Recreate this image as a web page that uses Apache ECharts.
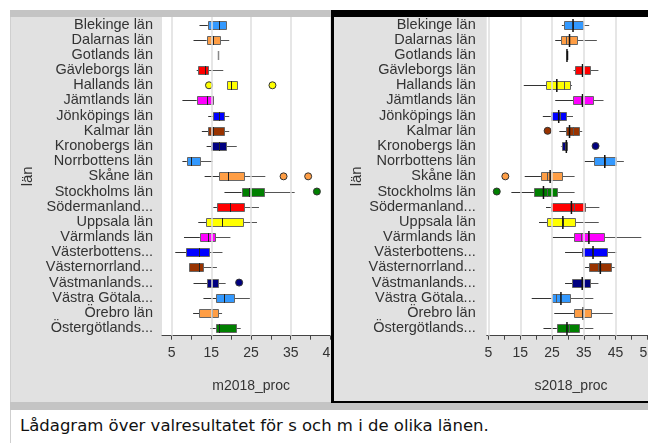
<!DOCTYPE html>
<html><head><meta charset="utf-8">
<script src="https://cdn.jsdelivr.net/npm/echarts@6/dist/echarts.min.js"></script>
<style>
html,body{margin:0;padding:0;background:#fff;width:648px;height:443px;overflow:hidden;font-family:"Liberation Sans",Arial,sans-serif;}
.abs{position:absolute;}
</style></head>
<body>
<div class="abs" style="left:10px;top:10px;width:1px;height:433px;background:#cfcfcf"></div>
<div class="abs" style="left:10px;top:10px;width:321px;height:7px;background:#c4c4c4"></div>
<div class="abs" style="left:10px;top:402px;width:638px;height:8px;background:#c4c4c4"></div>
<div class="abs" style="left:11px;top:17px;width:320px;height:385px;overflow:hidden;background:#e1e1e1">
  <div id="left" style="position:absolute;left:-1px;top:0;width:345px;height:385px"></div>
</div>
<div class="abs" style="left:334px;top:17px;width:314px;height:384px;overflow:hidden;background:#e1e1e1">
  <div id="right" style="position:absolute;left:0;top:0;width:340px;height:384px"></div>
</div>
<div class="abs" style="left:331px;top:10px;width:317px;height:7px;background:#000"></div>
<div class="abs" style="left:331px;top:10px;width:3px;height:393px;background:#000"></div>
<div class="abs" style="left:331px;top:401px;width:317px;height:2px;background:#000"></div>
<div class="abs" id="cap" style="left:20px;top:416px;font-family:'DejaVu Sans';font-size:16.5px;color:#111;white-space:nowrap">Lådagram över valresultatet för s och m i de olika länen.</div>
<script>
// ---- data ----
const categories = ["Blekinge län","Dalarnas län","Gotlands län","Gävleborgs län","Hallands län","Jämtlands län","Jönköpings län","Kalmar län","Kronobergs län","Norrbottens län","Skåne län","Stockholms län","Södermanland...","Uppsala län","Värmlands län","Västerbottens...","Västernorrland...","Västmanlands...","Västra Götala...","Örebro län","Östergötlands..."];

// m2018_proc (left panel)
const mMin    = [12.0, 10.5, 16.6, 11.3, 18.9,  7.7, 14.2, 12.6, 13.8,  7.7, 13.3, 18.3, 15.5, 11.7,  8.1,  5.9,  9.3, 10.5, 13.0, 10.4, 14.8];
const mQ1     = [14.1, 13.8, 16.6, 11.7, 18.9, 11.3, 15.5, 14.2, 15.0,  8.8, 17.0, 22.6, 16.4, 13.7, 12.1,  8.7,  9.3, 13.9, 16.2, 11.9, 16.1];
const mMedian = [16.8, 15.5, 16.6, 13.5, 19.9, 13.8, 16.8, 15.5, 17.0,  9.9, 19.1, 24.6, 19.8, 17.8, 14.2, 12.0, 11.9, 15.1, 18.2, 15.1, 16.8];
const mQ3     = [18.7, 17.2, 16.6, 14.1, 21.4, 15.3, 18.3, 18.3, 18.7, 12.1, 23.2, 28.2, 23.2, 22.9, 15.8, 14.5, 12.9, 16.7, 20.7, 16.7, 21.1];
const mMax    = [18.7, 19.5, 16.6, 18.0, 21.4, 15.3, 19.5, 19.5, 21.4, 15.3, 28.6, 36.0, 27.0, 26.5, 19.8, 17.8, 16.4, 18.6, 24.7, 17.7, 22.4];
const mOutlierCats = ["Hallands län","Hallands län","Skåne län","Skåne län","Stockholms län","Västmanlands..."];
const mOutlierVals = [14.4, 30.4, 33.2, 39.4, 41.6, 22.0];

// s2018_proc (right panel)
const sMin    = [28.1, 26.0, 29.7, 31.8, 16.1, 26.0, 22.1, 27.3, 27.8, 35.2, 16.4, 12.2, 23.1, 20.9, 25.2, 29.1, 35.4, 29.1, 18.6, 25.7, 22.3];
const sQ1     = [28.7, 27.9, 29.7, 32.2, 23.1, 31.6, 24.6, 29.4, 28.0, 38.3, 21.5, 19.3, 24.6, 23.4, 31.9, 34.5, 36.7, 31.4, 24.9, 31.9, 26.5];
const sMedian = [31.6, 29.5, 29.7, 34.6, 28.7, 34.0, 27.6, 31.6, 29.0, 41.6, 23.4, 23.5, 32.0, 28.6, 34.0, 37.9, 39.6, 34.5, 26.3, 34.5, 30.3];
const sQ3     = [34.8, 32.7, 29.7, 36.9, 30.5, 38.0, 29.5, 33.6, 29.6, 45.1, 28.1, 26.6, 35.4, 32.3, 41.2, 42.3, 43.5, 36.9, 30.6, 37.4, 33.5];
const sMax    = [36.7, 39.1, 29.7, 39.6, 31.3, 41.2, 31.6, 34.5, 29.8, 47.6, 32.1, 32.1, 39.9, 39.7, 53.1, 45.3, 44.7, 39.6, 38.0, 44.1, 38.0];
const sMarker = [31.6, 30.5, 29.7, 34.6, 26.5, 34.6, 27.1, 30.5, 29.5, 41.6, 24.4, 22.3, 31.1, 28.4, 36.6, 37.9, 40.2, 34.5, 27.8, 34.8, 29.7];
const sOutlierCats = ["Kalmar län","Kronobergs län","Skåne län","Stockholms län"];
const sOutlierVals = [23.6, 38.7, 10.3, 7.6];

const tickValues = [5,10,15,20,25,30,35,40,45,50,55];
const labelValues = [5,15,25,35,45,55];
const gridValues = [5,15,25,35,45];

// ---- styling ----
const palette = ["#3399ff","#ff9e45","#008000","#ff0000","#ffff00","#ff00ff","#0000ff","#993300","#000080"];
const FONT = "Liberation Sans";

function makeRender(withMarker, singleColor) {
  return function (params, api) {
    const i = api.value(0);
    const c = palette[i % palette.length];
    const pLo = api.coord([api.value(1), i]);
    const pQ1 = api.coord([api.value(2), i]);
    const pMed = api.coord([api.value(3), i]);
    const pQ3 = api.coord([api.value(4), i]);
    const pHi = api.coord([api.value(5), i]);
    const y = Math.round(pLo[1]);
    const h = 9;
    const r = v => Math.round(v) + 0.5;
    const kids = [];
    const single = Math.abs(pHi[0] - pLo[0]) < 0.5;
    if (single) {
      kids.push({type:'line', shape:{x1:r(pMed[0]), y1:y - 4, x2:r(pMed[0]), y2:y + 5}, style:{stroke:singleColor, lineWidth:1.5}});
    } else {
      kids.push({type:'line', shape:{x1:pLo[0], y1:y + 0.5, x2:pQ1[0], y2:y + 0.5}, style:{stroke:'#333', lineWidth:1}});
      kids.push({type:'line', shape:{x1:pQ3[0], y1:y + 0.5, x2:pHi[0], y2:y + 0.5}, style:{stroke:'#555', lineWidth:1}});
      kids.push({type:'rect', shape:{x:r(pQ1[0]), y:y - 4 + 0.5, width:Math.round(pQ3[0]) - Math.round(pQ1[0]), height:h - 1}, style:{fill:c, stroke:'#666', lineWidth:1}});
      kids.push({type:'line', shape:{x1:r(pMed[0]), y1:y - 4, x2:r(pMed[0]), y2:y + 5}, style:{stroke: withMarker ? '#555' : '#222', lineWidth:1}});
    }
    if (withMarker) {
      const pM = api.coord([api.value(6), i]);
      kids.push({type:'line', shape:{x1:pM[0], y1:y - 6, x2:pM[0], y2:y + 7}, style:{stroke:'#111', lineWidth:1.5}});
    }
    return {type:'group', children:kids};
  };
}

function build(el, cfg) {
  const chart = echarts.init(el, null, {renderer:'canvas'});
  const boxData = categories.map((_, i) => [i, cfg.min[i], cfg.q1[i], cfg.med[i], cfg.q3[i], cfg.max[i], cfg.marker ? cfg.marker[i] : cfg.med[i]]);
  const outData = cfg.outVals.map((v, k) => [v, categories.indexOf(cfg.outCats[k])]);
  chart.setOption({
    animation:false,
    grid:{left:cfg.gridLeft, right:cfg.gridRight, top:0, bottom:cfg.gridBottom, show:true, backgroundColor:'#fff', borderWidth:0},
    xAxis:{
      type:'value', min:cfg.xMin, max:cfg.xMax,
      splitLine:{show:false},
      axisLine:{show:true, lineStyle:{color:'#444', width:1}},
      axisTick:{show:true, customValues:tickValues, length:4, lineStyle:{color:'#444'}},
      axisLabel:{customValues:labelValues, fontSize:14, color:'#333', margin:10, fontFamily:FONT},
      name:cfg.name, nameLocation:'middle', nameGap:43,
      nameTextStyle:{fontSize:14, color:'#333', fontFamily:FONT}
    },
    yAxis:{
      type:'category', data:categories, inverse:true,
      axisLine:{show:false}, axisTick:{show:false}, splitLine:{show:false},
      axisLabel:{interval:0, fontSize:14.5, color:'#333', margin:cfg.labelMargin, fontFamily:FONT},
      name:'län', nameLocation:'middle', nameGap:cfg.nameGapY,
      nameTextStyle:{fontSize:15, color:'#333', fontFamily:FONT}
    },
    series:[
      {type:'line', data:[], z:1, silent:true,
       markLine:{silent:true, symbol:'none', label:{show:false}, animation:false,
         lineStyle:{color:'#dedede', width:1.5, type:'solid'},
         data:gridValues.map(v => ({xAxis:v}))}},
      {type:'custom', z:2, renderItem:makeRender(!!cfg.marker, cfg.singleColor), data:boxData,
       encode:{x:[1,2,3,4,5], y:0}},
      {type:'scatter', z:3, data:outData, symbolSize:7,
       itemStyle:{color:p => palette[p.value[1] % palette.length], borderColor:'#333', borderWidth:1, opacity:1}}
    ]
  });
}

build(document.getElementById('left'), {
  min:mMin, q1:mQ1, med:mMedian, q3:mQ3, max:mMax, marker:null,
  outCats:mOutlierCats, outVals:mOutlierVals,
  xMin:2.555, xMax:47.5, gridLeft:152, gridRight:14.7, gridBottom:66.3,
  name:'m2018_proc', labelMargin:9, nameGapY:106, singleColor:'#888'
});
build(document.getElementById('right'), {
  min:sMin, q1:sQ1, med:sMedian, q3:sQ3, max:sMax, marker:sMarker,
  outCats:sOutlierCats, outVals:sOutlierVals,
  xMin:4.433, xMax:57.5, gridLeft:152.7, gridRight:18.7, gridBottom:65.3,
  name:'s2018_proc', labelMargin:11, nameGapY:122, singleColor:'#111'
});
</script>
</body></html>
